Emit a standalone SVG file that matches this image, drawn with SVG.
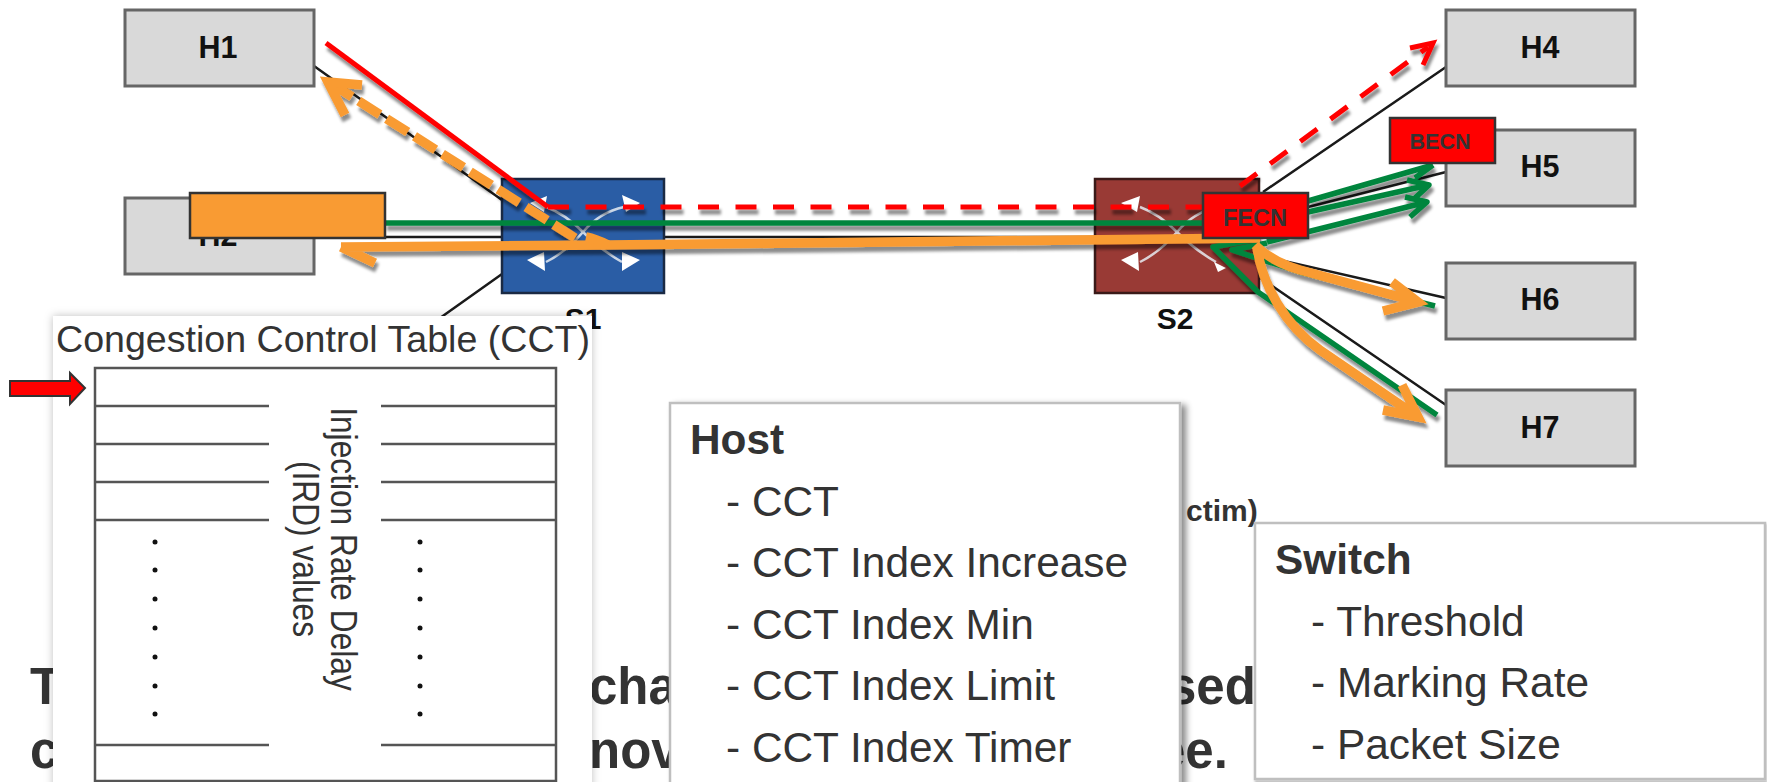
<svg xmlns="http://www.w3.org/2000/svg" width="1767" height="782" viewBox="0 0 1767 782">
<style>
text{font-family:"Liberation Sans",Arial,sans-serif}
.host{fill:#d9d9d9;stroke:#666;stroke-width:3}
.hl{font-size:30.5px;font-weight:bold;fill:#111;text-anchor:middle}
.lnk{stroke:#1a1a1a;stroke-width:2.5;fill:none}
.red{stroke:#f00;stroke-width:5;fill:none}
.dash{stroke-dasharray:21 16.5}
.grn{stroke:#00853e;stroke-width:5.5;fill:none;stroke-linejoin:round}
.org{stroke:#f99b33;stroke-width:9.5;fill:none;stroke-linejoin:miter}
.odash{stroke-dasharray:25 8}
.wa{stroke:#e8ecf2;stroke-width:2.5;fill:none;opacity:.85}
.wh{fill:#fff}
.bg{font-size:51px;font-weight:bold;fill:#333}
.panel{fill:#fff;stroke:#bfbfbf;stroke-width:2.5}
.pt{font-size:42.4px;fill:#333}
.pb{font-weight:bold}
.tl{stroke:#555;stroke-width:2.5;fill:none}
.dot{fill:#111}
.badge{fill:#f00;stroke:#333;stroke-width:2.5}
.sw{font-size:30px;font-weight:bold;fill:#111;text-anchor:middle}
</style>
<defs>
<filter id="sh" x="-10%" y="-10%" width="120%" height="125%"><feDropShadow dx="2" dy="5" stdDeviation="1.5" flood-color="#000" flood-opacity=".45"/></filter>
<filter id="psh" x="-5%" y="-5%" width="110%" height="110%"><feDropShadow dx="5" dy="3" stdDeviation="3" flood-color="#000" flood-opacity=".45"/></filter>
<filter id="cs" x="-5%" y="-5%" width="110%" height="110%"><feDropShadow dx="0" dy="0" stdDeviation="4" flood-color="#000" flood-opacity=".25"/></filter>
<filter id="ss" x="-5%" y="-5%" width="110%" height="110%"><feDropShadow dx="1" dy="2" stdDeviation="1" flood-color="#000" flood-opacity=".3"/></filter>
</defs>
<g id="background-text">
<text x="30" y="704" class="bg">T</text><text x="589" y="704" class="bg">cha</text><text x="1168" y="704" class="bg">sed</text>
<text x="30" y="768" class="bg">c</text><text x="589" y="768" class="bg">nov</text><text x="1157" y="768" class="bg">ee.</text>
<text x="1186" y="521" font-size="30" font-weight="bold" fill="#333">ctim)</text>
</g>
<g id="links">
<path class="lnk" d="M314 66L502 200M314 237H502M665 237H1095M502 274L440 318M1263 192L1446 67M1308 207L1446 172M1267 257L1446 298M1259 277L1446 405"/>
</g>
<g id="H1"><rect class="host" x="125" y="10" width="189" height="76"/><text class="hl" x="218" y="58">H1</text></g>
<g id="H2"><rect class="host" x="125" y="198" width="189" height="76"/><text class="hl" x="218" y="246">H2</text></g>
<g id="H4"><rect class="host" x="1446" y="10" width="189" height="76"/><text class="hl" x="1540" y="58">H4</text></g>
<g id="H5"><rect class="host" x="1446" y="130" width="189" height="76"/><text class="hl" x="1540" y="177">H5</text></g>
<g id="H6"><rect class="host" x="1446" y="263" width="189" height="76"/><text class="hl" x="1540" y="310">H6</text></g>
<g id="H7"><rect class="host" x="1446" y="390" width="189" height="76"/><text class="hl" x="1540" y="438">H7</text></g>
<g id="S1"><rect x="502" y="179" width="162" height="114" fill="#2a5da5" stroke="#1a2a44" stroke-width="2.5"/>
<path class="wa" d="M624 207Q600 212 583 232T546 262M546 207Q565 214 583 232T622 262"/>
<path class="wh" d="M640 203L622 195L626 212ZM640 260L622 252L622 271ZM527 260L544 252L545 271ZM530 203L547 196L544 212Z"/>
<text class="sw" x="583" y="329">S1</text></g>
<g id="S2"><rect x="1095" y="179" width="164" height="114" fill="#993a35" stroke="#3a1a18" stroke-width="2.5"/>
<path class="wa" d="M1218 207Q1194 212 1177 232T1140 262M1140 207Q1159 214 1177 232T1216 262"/>
<path class="wh" d="M1121 203L1140 196L1137 212ZM1121 260L1138 252L1139 271ZM1226 268L1214 262L1218 272Z"/>
<text class="sw" x="1175" y="329">S2</text></g>
<g id="connectors">
<g filter="url(#sh)">
<path class="grn" d="M385 223H1202M1308 201L1433 165M1415 178L1433 165M1308 212L1429 185M1407 180L1429 185L1415 198M1267 242L1427 202M1405 197L1427 202L1410 217M1252 240L1213 247L1258 292L1437 415M1267 243L1232 250L1300 272L1435 306"/>
<path class="red" d="M326 43L548 207"/>
<path class="red dash" d="M548 207H1202M1240 186L1428 47"/>
<path class="red" d="M1410 48L1433 43L1423 65"/>
<path class="org odash" d="M575 238L335 86"/>
<path class="org" d="M362 85L328 82L345 115M1260 238L608 245L341 247M375 263L341 247"/>
<path class="org" d="M586 237Q596 239 608 245M1255 245Q1272 262 1300 270L1418 302M1392 282L1418 302L1383 311M1257 247C1262 285 1285 325 1320 350L1418 417M1402 385L1418 417L1383 410"/>
</g>
</g>
<g id="orange-box"><rect x="190" y="193" width="195" height="45" fill="#f99b33" stroke="#333" stroke-width="2.5"/></g>
<g id="FECN"><rect class="badge" x="1203" y="193" width="105" height="45"/><text x="1255" y="226" font-size="23.5" font-weight="bold" fill="#333" text-anchor="middle">FECN</text></g>
<g id="BECN"><rect class="badge" x="1390" y="118" width="105" height="45"/><text x="1440" y="149" font-size="21.5" font-weight="bold" fill="#333" text-anchor="middle">BECN</text></g>
<g id="cct-panel">
<rect x="53" y="316" width="539" height="480" fill="#fff" filter="url(#cs)"/>
<text x="56" y="352" font-size="37.6" fill="#333">Congestion Control Table (CCT)</text>
<path class="tl" d="M95 782V368H556V782M95 406H269M381 406H556M95 444H269M381 444H556M95 482H269M381 482H556M95 520H269M381 520H556M95 745H269M381 745H556M95 781H556"/>
<text transform="translate(331,549) rotate(90) scale(1,1.15)" font-size="31.7" fill="#333" text-anchor="middle">Injection Rate Delay</text>
<text transform="translate(293,549) rotate(90) scale(1,1.15)" font-size="31.7" fill="#333" text-anchor="middle">(IRD) values</text>
<g class="dot"><circle cx="155" cy="542" r="2.5"/><circle cx="155" cy="570" r="2.5"/><circle cx="155" cy="599" r="2.5"/><circle cx="155" cy="628" r="2.5"/><circle cx="155" cy="657" r="2.5"/><circle cx="155" cy="686" r="2.5"/><circle cx="155" cy="714" r="2.5"/>
<circle cx="420" cy="542" r="2.5"/><circle cx="420" cy="570" r="2.5"/><circle cx="420" cy="599" r="2.5"/><circle cx="420" cy="628" r="2.5"/><circle cx="420" cy="657" r="2.5"/><circle cx="420" cy="686" r="2.5"/><circle cx="420" cy="714" r="2.5"/></g>
</g>
<g id="cct-pointer"><path d="M10 381H70V373L85 388L70 404V396H10Z" fill="#f00" stroke="#333" stroke-width="2"/></g>
<g id="host-panel">
<rect class="panel" x="670" y="403" width="510" height="395" filter="url(#psh)"/>
<text class="pt pb" x="690" y="454">Host</text>
<text class="pt" x="726" y="516">- CCT</text>
<text class="pt" x="726" y="577">- CCT Index Increase</text>
<text class="pt" x="726" y="639">- CCT Index Min</text>
<text class="pt" x="726" y="700">- CCT Index Limit</text>
<text class="pt" x="726" y="762">- CCT Index Timer</text>
</g>
<g id="switch-panel">
<rect class="panel" x="1255" y="523" width="510" height="256" filter="url(#ss)"/>
<text class="pt pb" x="1275" y="574">Switch</text>
<text class="pt" x="1311" y="636">- Threshold</text>
<text class="pt" x="1311" y="697">- Marking Rate</text>
<text class="pt" x="1311" y="759">- Packet Size</text>
</g>
</svg>
